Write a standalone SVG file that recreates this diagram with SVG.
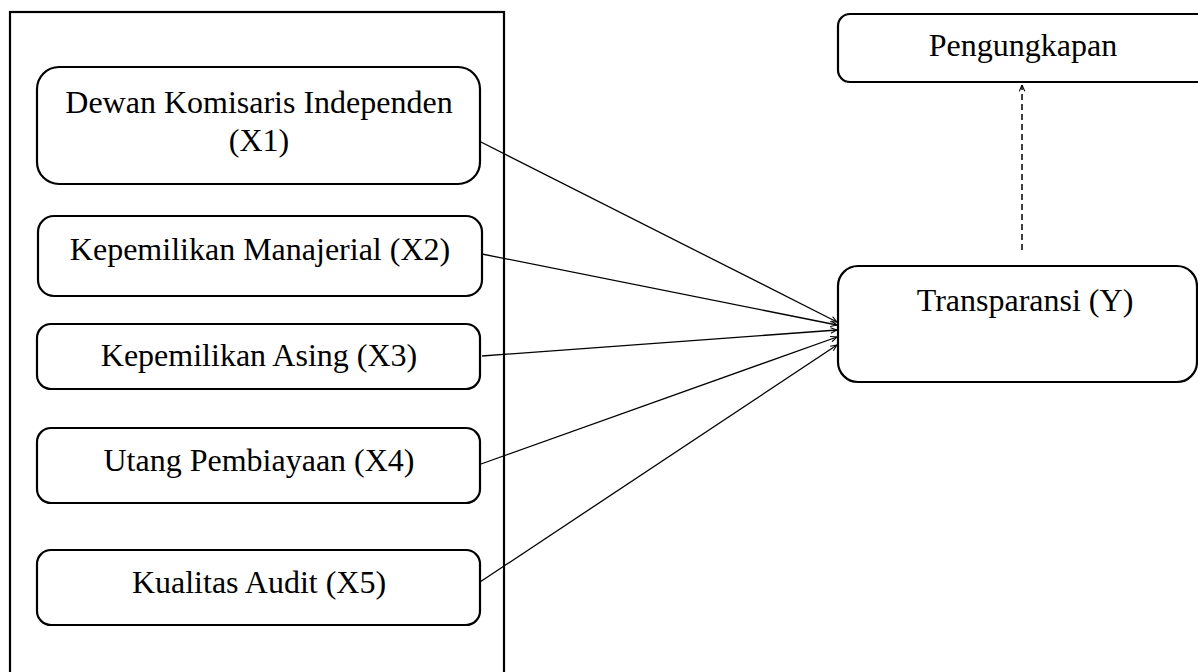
<svg xmlns="http://www.w3.org/2000/svg" width="1198" height="672" viewBox="0 0 1198 672">
<style>
.box{fill:#fff;stroke:#000;stroke-width:2.2}
.t{font-family:"Liberation Serif","Times New Roman",serif;font-size:32px;fill:#000;text-anchor:middle}
.c{fill:none;stroke:#000;stroke-width:1.3}
.d{fill:none;stroke:#000;stroke-width:1.5;stroke-dasharray:6 4}
</style>
<defs>
<marker id="ah" viewBox="0 0 10 10" refX="10" refY="5" markerWidth="7" markerHeight="7" markerUnits="userSpaceOnUse" orient="auto">
<path d="M1,1 L10,5 L1,9" fill="none" stroke="#000" stroke-width="1.5"/>
</marker>
</defs>
<rect id="outer" x="10" y="12" width="494" height="670" fill="none" stroke="#000" stroke-width="2.2"/>
<g id="x1"><rect class="box" x="37" y="67" width="443" height="117" rx="22"/><text class="t" x="259" y="113">Dewan Komisaris Independen</text><text class="t" x="259" y="151">(X1)</text></g>
<g id="x2"><rect class="box" x="38" y="216" width="444" height="80" rx="16"/><text class="t" x="260" y="260">Kepemilikan Manajerial (X2)</text></g>
<g id="x3"><rect class="box" x="37" y="324" width="443" height="65" rx="14"/><text class="t" x="259" y="366">Kepemilikan Asing (X3)</text></g>
<g id="x4"><rect class="box" x="37" y="428" width="443" height="75" rx="14"/><text class="t" x="259" y="471">Utang Pembiayaan (X4)</text></g>
<g id="x5"><rect class="box" x="37" y="550" width="443" height="75" rx="14"/><text class="t" x="259" y="593">Kualitas Audit (X5)</text></g>
<g id="peng"><rect class="box" x="838" y="14" width="380" height="68" rx="12"/><text class="t" x="1023" y="56">Pengungkapan</text></g>
<g id="trans"><rect class="box" x="838" y="266" width="359" height="116" rx="20"/><text class="t" x="1025" y="311">Transparansi (Y)</text></g>
<g id="connectors">
<line class="c" x1="481" y1="142" x2="837" y2="322" marker-end="url(#ah)"/>
<line class="c" x1="482" y1="254" x2="837" y2="325" marker-end="url(#ah)"/>
<line class="c" x1="482" y1="356" x2="837" y2="330" marker-end="url(#ah)"/>
<line class="c" x1="481" y1="464" x2="837" y2="337" marker-end="url(#ah)"/>
<line class="c" x1="480" y1="582" x2="837" y2="345" marker-end="url(#ah)"/>
<line class="d" x1="1022" y1="250" x2="1022" y2="85" marker-end="url(#ah)"/>
</g>
</svg>
